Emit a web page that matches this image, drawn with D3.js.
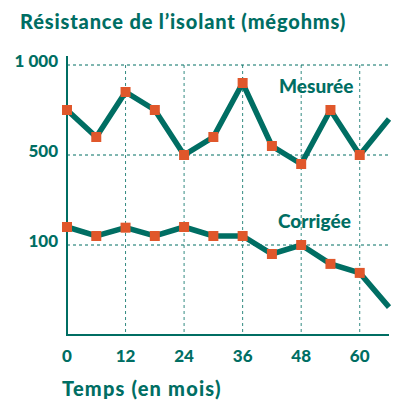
<!DOCTYPE html>
<html>
<head>
<meta charset="utf-8">
<script src="https://cdn.jsdelivr.net/npm/d3@7"></script>
<style>
  body { margin: 0; background: #fff; }
  text { font-family: Lato, "Open Sans", sans-serif; font-weight: 900; fill: #006e63; }
</style>
</head>
<body>
<div id="chart"></div>
<script>
// données
const mois = [0, 6, 12, 18, 24, 30, 36, 42, 48, 54, 60, 66];
const mesuree = [750, 600, 850, 750, 500, 600, 900, 550, 460, 750, 500, 700];
const corrigee = [180, 140, 177, 140, 180, 140, 140, 90, 100, 79, 69, 31];
const xTicks = [0, 12, 24, 36, 48, 60];
const yTicks = [1000, 500, 100];
const yTickLabels = ['1 000', '500', '100'];

const width = 401, height = 402;
const teal = '#006e63', orange = '#e0572b';

const svg = d3.select('#chart').append('svg')
  .attr('width', width)
  .attr('height', height);

const x = d3.scaleLinear().domain([0, 66]).range([67, 389]);
// axe non proportionnel : 1000, 500 et 100 également espacés
const y = d3.scaleLinear().domain([0, 100, 500, 1000]).range([335, 245, 155, 65]);

// titre
svg.append('text')
  .attr('x', 20).attr('y', 29)
  .style('font-size', '20px')
  .style('letter-spacing', '0.85px')
  .text('Résistance de l’isolant (mégohms)');

// grille
const grid = svg.append('g')
  .attr('stroke', teal)
  .attr('stroke-width', 1)
  .attr('stroke-dasharray', '3,3');

grid.selectAll('line.h')
  .data(yTicks)
  .join('line')
  .attr('x1', x(0)).attr('x2', 389)
  .attr('y1', d => y(d)).attr('y2', d => y(d));

grid.selectAll('line.v')
  .data(xTicks.slice(1))
  .join('line')
  .attr('class', 'v')
  .attr('opacity', 0.8)
  .attr('x1', d => x(d)).attr('x2', d => x(d))
  .attr('y1', y(1000)).attr('y2', y(0));

// axes
svg.append('line')
  .attr('x1', x(0)).attr('x2', x(0))
  .attr('y1', 56).attr('y2', y(0) + 1)
  .attr('stroke', teal).attr('stroke-width', 2);
svg.append('line')
  .attr('x1', x(0) - 1).attr('x2', 389)
  .attr('y1', y(0)).attr('y2', y(0))
  .attr('stroke', teal).attr('stroke-width', 2);

// étiquettes
svg.selectAll('text.ytick')
  .data(yTicks)
  .join('text')
  .attr('class', 'ytick')
  .attr('x', 58)
  .attr('y', d => y(d) + 2)
  .attr('text-anchor', 'end')
  .style('font-size', '17px')
  .text((d, i) => yTickLabels[i]);

svg.selectAll('text.xtick')
  .data(xTicks)
  .join('text')
  .attr('class', 'xtick')
  .attr('x', d => x(d))
  .attr('y', 362)
  .attr('text-anchor', 'middle')
  .style('font-size', '17px')
  .text(d => d);

svg.append('text')
  .attr('x', 62).attr('y', 396)
  .style('font-size', '20px')
  .style('letter-spacing', '1.2px')
  .text('Temps (en mois)');

// séries
const line = d3.line().x((d, i) => x(mois[i])).y(d => y(d));

[mesuree, corrigee].forEach(serie => {
  svg.append('path')
    .datum(serie)
    .attr('d', line)
    .attr('fill', 'none')
    .attr('stroke', teal)
    .attr('stroke-width', 5.5)
    .attr('stroke-linejoin', 'miter');

  svg.append('g')
    .selectAll('rect')
    .data(serie.slice(0, -1))
    .join('rect')
    .attr('x', (d, i) => x(mois[i]) - 5)
    .attr('y', d => y(d) - 5)
    .attr('width', 10)
    .attr('height', 10)
    .attr('fill', orange);
});

svg.append('text')
  .attr('x', 279).attr('y', 93)
  .style('font-size', '19px')
  .text('Mesurée');
svg.append('text')
  .attr('x', 278).attr('y', 228)
  .style('font-size', '19px')
  .text('Corrigée');
</script>
</body>
</html>
